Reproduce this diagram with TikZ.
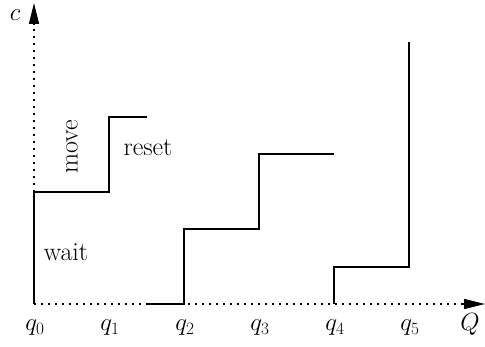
\documentclass[tikz,border=0pt]{standalone}
\usetikzlibrary{arrows.meta}
\begin{document}
\begin{tikzpicture}[x=1pt,y=-1pt,
  axis/.style={line width=1.3pt, dash pattern=on 1.5pt off 5.5pt},
  tipline/.style={line width=1.3pt,-{Triangle[length=21pt,width=10pt]}},
  stepline/.style={line width=1.8pt, line join=miter},
  lbl/.style={inner sep=0pt, font=\fontsize{26}{30}\selectfont}]
\useasboundingbox (0,0) rectangle (485,347);
\coordinate (O) at (34,304);
\coordinate (Ytop) at (34,3);
\coordinate (Yb) at (34,25);
\coordinate (Xend) at (485,304);
\coordinate (Xb) at (463,304);
% axes
\draw[axis] (O) -- (Yb);
\draw[tipline] (Yb) -- (Ytop);
\draw[axis] (O) -- (Xb);
\draw[tipline] (Xb) -- (Xend);
% step 1
\coordinate (a0) at (34,304);
\coordinate (a1) at (34,192);
\coordinate (a2) at (109,192);
\coordinate (a3) at (109,117);
\coordinate (a4) at (147,117);
\draw[stepline] (a0) -- (a1) -- (a2) -- (a3) -- (a4);
% step 2
\coordinate (b0) at (147,304);
\coordinate (b1) at (184,304);
\coordinate (b2) at (184,229);
\coordinate (b3) at (259,229);
\coordinate (b4) at (259,154);
\coordinate (b5) at (334,154);
\draw[stepline] (b0) -- (b1) -- (b2) -- (b3) -- (b4) -- (b5);
% step 3
\coordinate (c0) at (334,304);
\coordinate (c1) at (334,267);
\coordinate (c2) at (409,267);
\coordinate (c3) at (409,42);
\draw[stepline] (c0) -- (c1) -- (c2) -- (c3);
% labels
\node[lbl] (lc) at (15,15) {$c$};
\node[lbl] (lQ) at (470,324) {$Q$};
\node[lbl] (q0) at (35,328) {$q_0$};
\node[lbl] (q1) at (110,328) {$q_1$};
\node[lbl] (q2) at (185,328) {$q_2$};
\node[lbl] (q3) at (260,328) {$q_3$};
\node[lbl] (q4) at (335,328) {$q_4$};
\node[lbl] (q5) at (410,328) {$q_5$};
\node[lbl, rotate=90] (mv) at (72,147) {move};
\node[lbl] (rs) at (148,148) {reset};
\node[lbl] (wt) at (66,252) {wait};
\end{tikzpicture}
\end{document}
